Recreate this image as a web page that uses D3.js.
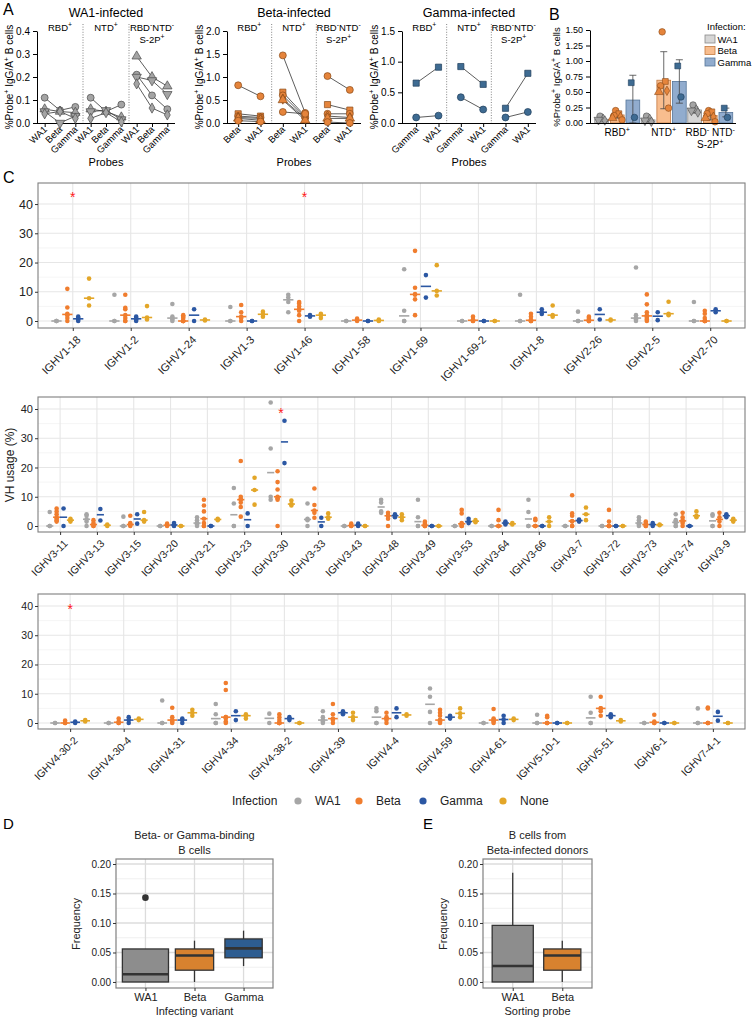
<!DOCTYPE html>
<meta charset="utf-8">
<style>
  body { margin: 0; background: #fff; }
  svg { font-family: "Liberation Sans", Arial, sans-serif; }
</style>
<svg width="752" height="1019"></svg>
<script src="https://cdn.jsdelivr.net/npm/d3@7"></script>
<script>
// ---------- panel A data (one row per donor, one value per probe) ----------
var wa1Probes = ["WA1", "Beta", "Gamma"];
var wa1Rbd = [[0.11, 0.055, 0.07], [0.06, 0.05, 0.045], [0.05, 0.0, 0.03], [0.04, 0.05, 0.02]];
var wa1Ntd = [[0.11, 0.05, 0.08], [0.06, 0.05, 0.025], [0.05, 0.055, 0.015], [0.02, 0.045, 0.005]];
var wa1S2p = [[0.21, 0.12, 0.06], [0.29, 0.20, 0.16], [0.20, 0.185, 0.125], [0.17, 0.065, 0.035]];
var wa1Shapes = ["circle", "triangle", "down", "diamond"];

var betaProbes = ["Beta", "WA1"];
var betaRbd = [[0.82, 0.58], [0.2, 0.15], [0.15, 0.12], [0.12, 0.1], [0.1, 0.06], [0.05, 0.03]];
var betaNtd = [[1.47, 0.22], [0.67, 0.15], [0.6, 0.12], [0.52, 0.1], [0.5, 0.06], [0.24, 0.2]];
var betaS2p = [[1.02, 0.72], [0.4, 0.28], [0.2, 0.2], [0.15, 0.12], [0.1, 0.1], [0.02, 0.0]];
var betaShapes = ["circle", "square", "circle", "diamond", "triangle", "circle"];

var gammaProbes = ["Gamma", "WA1"];
var gammaRbd = [[0.65, 0.91], [0.09, 0.12]];
var gammaNtd = [[0.92, 0.63], [0.42, 0.22]];
var gammaS2p = [[0.24, 0.81], [0.09, 0.18]];
var gammaShapes = ["square", "circle"];

// ---------- panel B data ----------
var bGroups = ["RBD", "NTD", "S2P"];
var bInfections = ["WA1", "Beta", "Gamma"];
var bMeanWA1 = [0.06, 0.05, 0.21];
var bMeanBeta = [0.13, 0.69, 0.12];
var bMeanGamma = [0.37, 0.67, 0.17];
var bSdWA1 = [0.02, 0.03, 0.05];
var bSdBeta = [0.05, 0.46, 0.07];
var bSdGamma = [0.40, 0.35, 0.07];
var bPtsWA1 = [[0.11, 0.06, 0.05, 0.04], [0.11, 0.06, 0.04, 0.02], [0.29, 0.21, 0.2, 0.17]];
var bPtsBeta = [[0.2, 0.15, 0.12, 0.1, 0.08, 0.05], [1.47, 0.67, 0.6, 0.52, 0.5, 0.24], [0.2, 0.18, 0.15, 0.1, 0.08, 0.02]];
var bPtsGamma = [[0.65, 0.09], [0.92, 0.42], [0.24, 0.09]];

// ---------- panel C data (VH usage %, per gene, per infection group) ----------
var infections = ["WA1", "Beta", "Gamma", "None"];

var genes1 = ["IGHV1-18", "IGHV1-2", "IGHV1-24", "IGHV1-3", "IGHV1-46", "IGHV1-58", "IGHV1-69", "IGHV1-69-2", "IGHV1-8", "IGHV2-26", "IGHV2-5", "IGHV2-70"];
var wa1_1 = [[0, 0, 0], [9, 0, 0], [5.8, 1.5, 1, 0.5, 0], [4.8, 0, 0], [9, 8, 6.5, 3], [0, 0], [17.7, 3.5, 0, 0], [0, 0], [9, 0, 0], [3.2, 0, 0], [18.3, 2, 1, 0.5, 0], [6.5, 0, 0]];
var beta_1 = [[11, 4.6, 2.5, 2, 1, 0], [9, 4.5, 4, 2, 1, 0, 0], [2, 1.5, 1, 0, 0, 0, 0], [5.5, 3, 1.5, 1, 0], [6.5, 6, 5, 4, 3.5, 2, 0], [0.8, 0.3, 0], [24, 11.4, 9.2, 9, 7.4, 2], [1.5, 0.5, 0, 0], [2.5, 1.5, 0.5, 0, 0, 0], [1.5, 1, 0.5, 0, 0, 0], [9.1, 5.7, 3, 2, 1.5, 1, 0.5, 0], [3.5, 2.5, 1, 0, 0, 0, 0]];
var gamma_1 = [[1.5, 1, 0.5, 0], [1.5, 1, 0.5, 0], [4, 0], [0, 0], [2, 1.5], [0, 0], [15.7, 8], [0, 0], [4, 3, 2.4], [4, 0.5], [3, 0.3], [4, 3]];
var none_1 = [[14.5, 7.8, 5.3], [5.1, 1.2, 0.5], [0.5, 0.2], [3.2, 2.3, 1.5], [2.5, 2, 1], [0.5, 0.2, 0], [19.1, 10.3, 8.7], [0, 0], [5.3, 2, 1.5], [0.5, 0.2], [6.6, 2.5, 2], [0, 0]];
var sig1 = ["IGHV1-18", "IGHV1-46"];
var sigY1 = [43.4, 43.4];

var genes2 = ["IGHV3-11", "IGHV3-13", "IGHV3-15", "IGHV3-20", "IGHV3-21", "IGHV3-23", "IGHV3-30", "IGHV3-33", "IGHV3-43", "IGHV3-48", "IGHV3-49", "IGHV3-53", "IGHV3-64", "IGHV3-66", "IGHV3-7", "IGHV3-72", "IGHV3-73", "IGHV3-74", "IGHV3-9"];
var wa1_2 = [[4.8, 0, 0], [4, 3.5, 2.3, 1.5, 0], [3.2, 0, 0], [0, 0], [3, 2, 1, 0.5, 0], [13, 7.7, 0, 0], [42.2, 26.5, 10, 9], [7.7, 2.5, 2, 0], [0, 0], [9, 8, 5, 4.5], [9, 3, 0, 0], [0, 0], [0, 0], [9, 4.8, 0, 0], [0, 0], [0, 0], [3, 2, 1, 0.5, 0], [4, 2, 1.5, 1, 0, 0], [4, 3.5, 0, 0]];
var beta_2 = [[6, 5, 4, 3, 2.5, 2, 1.5], [2, 1, 0.5, 0, 0], [3.5, 1, 0.5, 0.5, 0], [0.8, 0.3, 0], [9, 7, 5, 2.5, 1, 0, 0], [22.2, 10, 9.2, 9, 8, 6.5, 3.2], [18.7, 15, 12.5, 10, 9.5, 9, 0], [12.8, 7.2, 5.3, 4.5, 2.8], [0.8, 0.3, 0, 0], [4.5, 3.5, 3.5, 2.5, 0], [1.5, 1, 0.5, 0, 0, 0], [5.5, 4.3, 1, 0.5, 0, 0], [5.5, 2, 0, 0, 0], [2.5, 2, 0, 0, 0], [10.5, 4.3, 3.5, 1.7, 1.5, 0, 0], [5.5, 1.5, 0, 0, 0], [1.5, 1, 0.5, 0, 0], [4.5, 3, 2, 1.5, 1, 0], [4.5, 3, 1.5, 0]];
var gamma_2 = [[6, 0], [5.8, 1.9], [4, 0.8], [1, 0.5, 0.2, 0], [0, 0], [4.3, 0], [36, 21.5], [2.8, 0], [0.8, 0.3, 0], [4, 3.5, 3], [0, 0], [2.5, 1.5, 1], [1.5, 1, 0.5], [0, 0], [2.2, 1.5], [0, 0], [1, 0.5, 0], [0, 0], [4, 3.5, 3]];
var none_2 = [[2.5, 2, 1.5], [0.5, 0], [4.8, 2, 1.5], [0, 0], [2.5, 2], [16.5, 12.3, 7.3], [8.7, 7.5, 7], [4.3, 3, 2.5], [0, 0], [4, 3, 2], [0, 0], [2, 1.3], [1, 0.5], [3, 1.5, 0], [6.3, 4, 2], [0, 0], [0.5, 0.3], [5, 3.5, 3], [2.5, 2, 1.5]];
var sig2 = ["IGHV3-30"];
var sigY2 = [39.5];

var genes3 = ["IGHV4-30-2", "IGHV4-30-4", "IGHV4-31", "IGHV4-34", "IGHV4-38-2", "IGHV4-39", "IGHV4-4", "IGHV4-59", "IGHV4-61", "IGHV5-10-1", "IGHV5-51", "IGHV6-1", "IGHV7-4-1"];
var wa1_3 = [[0, 0], [0, 0], [7.7, 0, 0], [6.5, 3, 0, 0], [3.2, 0], [4, 2, 1, 0.5, 0], [5, 4, 0, 0], [11.8, 9, 3.8, 0], [0, 0], [2.8, 0, 0], [9, 3.5, 0, 0], [0, 0], [5, 0, 0]];
var beta_3 = [[0.8, 0, 0], [1.5, 0.5, 0, 0], [5.2, 2, 1, 0.5, 0], [13.7, 11.3, 2, 2, 1.5, 0.5, 0], [3, 2, 1, 0, 0, 0, 0], [6.5, 3, 1.5, 1, 0], [3.5, 2, 1.5, 1, 0], [4.5, 3.5, 2.5, 1, 1, 0.5, 0], [4.8, 1.5, 1, 0.5, 0], [2.5, 2, 0, 0, 0], [9, 5, 5, 4, 2.5], [2.8, 0.5, 0, 0], [5.3, 5, 0, 0, 0]];
var gamma_3 = [[0.5, 0], [2, 1, 0], [1.5, 1, 0], [4, 1], [2, 1.5, 1], [4, 3.5, 3], [5, 2], [2.5, 2, 1.5], [2.5, 1.2, 0], [0, 0], [3, 2.5, 2], [0, 0], [3.8, 0.8]];
var none_3 = [[1, 0.5], [1.5, 1], [4.5, 3.5, 2.5], [3, 2.5, 1.5], [0, 0], [3.5, 2, 1], [3, 2.5], [5, 3.3, 2], [1.5, 1], [0, 0], [1, 0.5], [0, 0], [0, 0]];
var sig3 = ["IGHV4-30-2"];
var sigY3 = [40];

// ---------- panels D and E (box statistics) ----------
var dCats = ["WA1", "Beta", "Gamma"];
var dLow = [0, 0, 0.027], dQ1 = [0, 0.02, 0.041], dMed = [0.013, 0.045, 0.057], dQ3 = [0.056, 0.056, 0.073], dHigh = [0.056, 0.07, 0.087];
var dOutliers = [[0.143], [], []];
var eCats = ["WA1", "Beta"];
var eLow = [0, 0], eQ1 = [0, 0.02], eMed = [0.027, 0.045], eQ3 = [0.096, 0.056], eHigh = [0.185, 0.07];
var eOutliers = [[], []];

// ---------- styles ----------
var aFill = { WA1: "#a4a4a4", Beta: "#e5843b", Gamma: "#3e6b92" };
var aStroke = { WA1: "#4a4a4a", Beta: "#8a4a18", Gamma: "#1f3d5a" };
var barFill = { WA1: "#d6d6d6", Beta: "#f8bd8e", Gamma: "#91acce" };
var barStroke = { WA1: "#8a8a8a", Beta: "#c47a40", Gamma: "#56769a" };
var cColor = { WA1: "#a6a6a6", Beta: "#f07d2e", Gamma: "#2b57a3", None: "#e3a628" };
var boxFill = { WA1: "#8d8d8d", Beta: "#d8822f", Gamma: "#2d5d91" };

var svg = d3.select("svg");

function rich(sel, parts, fs) {
  var up = false;
  parts.forEach(function (p) {
    var sup = p.charAt(0) === "^";
    var t = sel.append("tspan").text(sup ? p.slice(1) : p);
    if (sup) {
      t.attr("font-size", fs * 0.72);
      if (!up) { t.attr("dy", -fs * 0.38); up = true; }
    } else if (up) {
      t.attr("dy", fs * 0.38); up = false;
    }
  });
  return sel;
}

function symbolPath(shape, size) {
  var types = { circle: d3.symbolCircle, triangle: d3.symbolTriangle, down: d3.symbolTriangle, diamond: d3.symbolDiamond, square: d3.symbolSquare };
  return d3.symbol().type(types[shape]).size(size)();
}

var probeTitle = ["%Probe", "^+", " IgG/A", "^+", " B cells"];

// ---------- panel A ----------
function drawA(o) {
  var secs = ["RBD", "NTD", "S2P"];
  var xs = d3.scaleBand().domain(secs).range([o.left, o.right]);
  var xp = d3.scalePoint().domain(o.probes).range([o.shift, xs.bandwidth() + o.shift]).padding(0.5);
  var y = d3.scaleLinear().domain([0, o.yMax]).range([123, 31]);
  var g = svg.append("g");

  g.append("text").attr("x", (o.left + o.right) / 2).attr("y", 17).attr("text-anchor", "middle")
    .attr("font-size", 12.5).text(o.title);

  g.selectAll(".sep").data(secs.slice(1)).enter().append("line")
    .attr("x1", function (d) { return xs(d); }).attr("x2", function (d) { return xs(d); })
    .attr("y1", 24).attr("y2", 123)
    .attr("stroke", "#666").attr("stroke-width", 0.8).attr("stroke-dasharray", "1,1.6");

  var lab = [[["RBD", "^+"]], [["NTD", "^+"]], [["RBD", "^-", "NTD", "^-"], ["S-2P", "^+"]]];
  secs.forEach(function (s, i) {
    lab[i].forEach(function (line, li) {
      rich(g.append("text").attr("x", xs(s) + xs.bandwidth() / 2).attr("y", 31 + li * 12)
        .attr("text-anchor", "middle").attr("font-size", 9.5), line, 9.5);
    });
  });

  var ya = g.append("g").attr("transform", "translate(" + o.left + ",0)")
    .call(d3.axisLeft(y).tickValues(o.yTicks).tickFormat(d3.format(".1f")).tickSize(4).tickSizeOuter(0));
  ya.selectAll("text").attr("font-size", 10).attr("fill", "#000").attr("font-family", null);
  ya.selectAll("line,path").attr("stroke", "#000");

  g.append("line").attr("x1", o.left).attr("x2", o.right).attr("y1", 123.5).attr("y2", 123.5).attr("stroke", "#000");
  secs.forEach(function (s) {
    var xa = g.append("g").attr("transform", "translate(" + xs(s) + ",123)")
      .call(d3.axisBottom(xp).tickSize(4).tickSizeOuter(0).tickFormat(""));
    xa.select(".domain").remove();
    xa.selectAll("line").attr("stroke", "#000");
    o.probes.forEach(function (p) {
      g.append("text").attr("transform", "translate(" + (xs(s) + xp(p) + 3) + ",130) rotate(-45)")
        .attr("text-anchor", "end").attr("font-size", 9.5).text(p);
    });
  });

  rich(g.append("text").attr("transform", "translate(" + (o.left - 24) + ",77) rotate(-90)")
    .attr("text-anchor", "middle").attr("font-size", 10), probeTitle, 10);
  g.append("text").attr("x", (o.left + o.right) / 2).attr("y", 166).attr("text-anchor", "middle")
    .attr("font-size", 11).text("Probes");

  secs.forEach(function (s, si) {
    var rows = o.sets[si];
    rows.forEach(function (vals) {
      var pts = vals.map(function (v, pi) { return [xs(s) + xp(o.probes[pi]), y(v)]; });
      g.append("path").attr("d", d3.line()(pts)).attr("fill", "none").attr("stroke", "#333").attr("stroke-width", 0.8);
    });
    rows.forEach(function (vals, di) {
      vals.forEach(function (v, pi) {
        var sh = o.shapes[di];
        g.append("path").attr("d", symbolPath(sh, sh === "diamond" ? 30 : 38))
          .attr("transform", "translate(" + (xs(s) + xp(o.probes[pi])) + "," + y(v) + ")" + (sh === "down" ? " rotate(180)" : ""))
          .attr("fill", aFill[o.inf]).attr("stroke", aStroke[o.inf]).attr("stroke-width", 0.7);
      });
    });
  });
}

svg.append("text").attr("x", 3).attr("y", 15).attr("font-size", 16).text("A");
drawA({ left: 37, right: 175, shift: 0, probes: wa1Probes, yMax: 0.4, yTicks: [0, 0.1, 0.2, 0.3, 0.4],
  title: "WA1-infected", sets: [wa1Rbd, wa1Ntd, wa1S2p], shapes: wa1Shapes, inf: "WA1" });
drawA({ left: 227, right: 361, shift: 0, probes: betaProbes, yMax: 2, yTicks: [0, 0.5, 1, 1.5, 2],
  title: "Beta-infected", sets: [betaRbd, betaNtd, betaS2p], shapes: betaShapes, inf: "Beta" });
drawA({ left: 402, right: 536, shift: 3, probes: gammaProbes, yMax: 1.5, yTicks: [0, 0.5, 1, 1.5],
  title: "Gamma-infected", sets: [gammaRbd, gammaNtd, gammaS2p], shapes: gammaShapes, inf: "Gamma" });

// ---------- panel B ----------
(function () {
  var g = svg.append("g");
  g.append("text").attr("x", 549).attr("y", 20).attr("font-size", 16).text("B");
  var x = d3.scaleBand().domain(bGroups).range([594, 733.5]);
  var xi = d3.scaleBand().domain(bInfections).range([0, x.bandwidth()]).paddingInner(0.12).paddingOuter(0.05);
  var y = d3.scaleLinear().domain([0, 1.5]).range([123, 30]);
  var means = { WA1: bMeanWA1, Beta: bMeanBeta, Gamma: bMeanGamma };
  var sds = { WA1: bSdWA1, Beta: bSdBeta, Gamma: bSdGamma };
  var pts = { WA1: bPtsWA1, Beta: bPtsBeta, Gamma: bPtsGamma };
  var shapes = { WA1: ["circle", "triangle", "down", "diamond"], Beta: betaShapes, Gamma: gammaShapes };

  bInfections.forEach(function (inf) {
    bGroups.forEach(function (grp, gi) {
      var bx = x(grp) + xi(inf), bw = xi.bandwidth(), cx = bx + bw / 2;
      var m = means[inf][gi], sd = sds[inf][gi];
      g.append("rect").attr("x", bx).attr("y", y(m)).attr("width", bw).attr("height", y(0) - y(m))
        .attr("fill", barFill[inf]).attr("stroke", barStroke[inf]).attr("stroke-width", 0.8);
      var lo = Math.max(0, m - sd), hi = m + sd;
      g.append("line").attr("x1", cx).attr("x2", cx).attr("y1", y(lo)).attr("y2", y(hi)).attr("stroke", "#444").attr("stroke-width", 0.8);
      [lo, hi].forEach(function (v) {
        g.append("line").attr("x1", cx - 3.5).attr("x2", cx + 3.5).attr("y1", y(v)).attr("y2", y(v)).attr("stroke", "#444").attr("stroke-width", 0.8);
      });
      var vals = pts[inf][gi], n = vals.length;
      vals.forEach(function (v, k) {
        var dx = n > 1 ? (k % 2 === 0 ? -1 : 1) * (1 + (k >> 1)) * 1.6 : 0;
        var sh = shapes[inf][k % shapes[inf].length];
        g.append("path").attr("d", symbolPath(sh, sh === "diamond" ? 26 : 34))
          .attr("transform", "translate(" + (cx + dx) + "," + y(v) + ")" + (sh === "down" ? " rotate(180)" : ""))
          .attr("fill", aFill[inf]).attr("stroke", aStroke[inf]).attr("stroke-width", 0.6);
      });
    });
  });

  var ya = g.append("g").attr("transform", "translate(590,0)")
    .call(d3.axisLeft(y).tickValues([0, 0.25, 0.5, 0.75, 1, 1.25, 1.5]).tickFormat(d3.format(".2f")).tickSize(4).tickSizeOuter(0));
  ya.selectAll("text").attr("font-size", 9).attr("fill", "#000").attr("font-family", null);
  ya.selectAll("line,path").attr("stroke", "#000");
  g.append("line").attr("x1", 590).attr("x2", 736).attr("y1", 123.5).attr("y2", 123.5).attr("stroke", "#000");

  var labs = [[["RBD", "^+"]], [["NTD", "^+"]], [["RBD", "^-", " NTD", "^-"], ["S-2P", "^+"]]];
  bGroups.forEach(function (grp, i) {
    labs[i].forEach(function (line, li) {
      rich(g.append("text").attr("x", x(grp) + x.bandwidth() / 2).attr("y", 136 + li * 12)
        .attr("text-anchor", "middle").attr("font-size", 10), line, 10);
    });
  });
  rich(g.append("text").attr("transform", "translate(560,77) rotate(-90)")
    .attr("text-anchor", "middle").attr("font-size", 9.5), probeTitle, 9.5);

  g.append("text").attr("x", 707).attr("y", 30).attr("font-size", 9.5).text("Infection:");
  bInfections.forEach(function (inf, i) {
    g.append("rect").attr("x", 705).attr("y", 35 + i * 11.5).attr("width", 10).attr("height", 8)
      .attr("fill", barFill[inf]).attr("stroke", barStroke[inf]).attr("stroke-width", 0.8);
    g.append("text").attr("x", 717.5).attr("y", 42.5 + i * 11.5).attr("font-size", 9.5).text(inf);
  });
})();

// ---------- panel C ----------
function drawRow(genes, series, sig, sigY, box, fsY, fsX) {
  var g = svg.append("g");
  var x = d3.scalePoint().domain(genes).range([38, 745]).padding(0.6);
  var y = d3.scaleLinear().domain(box.dom).range([box.bottom, box.top]);
  var sub = d3.scaleBand().domain(infections).range([-0.375 * x.step(), 0.375 * x.step()]);

  g.selectAll(".minor").data([5, 15, 25, 35]).enter().append("line")
    .attr("x1", 38).attr("x2", 745).attr("y1", function (d) { return y(d); }).attr("y2", function (d) { return y(d); })
    .attr("stroke", "#f0f0f0").attr("stroke-width", 0.7);
  g.selectAll(".major").data([0, 10, 20, 30, 40]).enter().append("line")
    .attr("x1", 38).attr("x2", 745).attr("y1", function (d) { return y(d); }).attr("y2", function (d) { return y(d); })
    .attr("stroke", "#e6e6e6").attr("stroke-width", 1.1);
  g.selectAll(".vgrid").data(genes).enter().append("line")
    .attr("x1", function (d) { return x(d); }).attr("x2", function (d) { return x(d); })
    .attr("y1", box.top).attr("y2", box.bottom).attr("stroke", "#e6e6e6").attr("stroke-width", 1.1);

  var hw = sub.bandwidth() * 0.4 + 0.8;
  series.forEach(function (s, k) {
    var inf = infections[k];
    genes.forEach(function (gene, i) {
      var cx = x(gene) + sub(inf) + sub.bandwidth() / 2;
      s[i].forEach(function (v) {
        g.append("circle").attr("cx", cx).attr("cy", y(v)).attr("r", 2.3).attr("fill", cColor[inf]);
      });
      var med = d3.median(s[i]);
      g.append("line").attr("x1", cx - hw).attr("x2", cx + hw).attr("y1", y(med)).attr("y2", y(med))
        .attr("stroke", cColor[inf]).attr("stroke-width", 1.6);
    });
  });

  sig.forEach(function (gene, i) {
    g.append("text").attr("x", x(gene)).attr("y", y(sigY[i]) + 8).attr("text-anchor", "middle")
      .attr("font-size", 14).attr("fill", "#ff1a1a").text("*");
  });

  g.append("rect").attr("x", 38).attr("y", box.top).attr("width", 707).attr("height", box.bottom - box.top)
    .attr("fill", "none").attr("stroke", "#7f7f7f").attr("stroke-width", 1.1);

  var ya = g.append("g").attr("transform", "translate(38,0)")
    .call(d3.axisLeft(y).tickValues([0, 10, 20, 30, 40]).tickSize(3).tickPadding(2));
  ya.select(".domain").remove();
  ya.selectAll("line").attr("stroke", "#333");
  ya.selectAll("text").attr("font-size", fsY).attr("fill", "#222").attr("font-family", null);

  var xa = g.append("g").attr("transform", "translate(0," + box.bottom + ")")
    .call(d3.axisBottom(x).tickSize(3).tickFormat(""));
  xa.select(".domain").remove();
  xa.selectAll("line").attr("stroke", "#333");
  genes.forEach(function (gene) {
    g.append("text").attr("transform", "translate(" + (x(gene) + 3) + "," + (box.bottom + 7) + ") rotate(-45)")
      .attr("text-anchor", "end").attr("dy", "0.7em").attr("font-size", fsX).attr("fill", "#222").text(gene);
  });
}

svg.append("text").attr("x", 3).attr("y", 183).attr("font-size", 16).text("C");
drawRow(genes1, [wa1_1, beta_1, gamma_1, none_1], sig1, sigY1, { top: 183, bottom: 328, dom: [-2.39, 47.2] }, 12.5, 11);
drawRow(genes2, [wa1_2, beta_2, gamma_2, none_2], sig2, sigY2, { top: 397, bottom: 532, dom: [-2.05, 44.1] }, 11, 10.5);
drawRow(genes3, [wa1_3, beta_3, gamma_3, none_3], sig3, sigY3, { top: 594, bottom: 729, dom: [-2.05, 44.1] }, 10.5, 10.5);

svg.append("text").attr("transform", "translate(14,465) rotate(-90)").attr("text-anchor", "middle")
  .attr("font-size", 12).attr("fill", "#222").text("VH usage (%)");

// legend
(function () {
  var g = svg.append("g").attr("font-size", 12).attr("fill", "#222");
  g.append("text").attr("x", 232).attr("y", 805).text("Infection");
  var lx = [298, 359, 423, 503];
  infections.forEach(function (inf, i) {
    g.append("circle").attr("cx", lx[i]).attr("cy", 801).attr("r", 3.6).attr("fill", cColor[inf]);
    g.append("text").attr("x", lx[i] + 17).attr("y", 805).text(inf);
  });
})();

// ---------- panels D and E ----------
function boxPanel(o) {
  var g = svg.append("g");
  var x = d3.scalePoint().domain(o.cats).range([o.left, o.right]).padding(0.6);
  var y = d3.scaleLinear().domain([-0.0102, 0.2085]).range([988, 859]);
  g.selectAll(".minor").data([0.025, 0.075, 0.125, 0.175]).enter().append("line")
    .attr("x1", o.left).attr("x2", o.right).attr("y1", function (d) { return y(d); }).attr("y2", function (d) { return y(d); })
    .attr("stroke", "#ececec").attr("stroke-width", 0.8);
  g.selectAll(".major").data([0, 0.05, 0.1, 0.15, 0.2]).enter().append("line")
    .attr("x1", o.left).attr("x2", o.right).attr("y1", function (d) { return y(d); }).attr("y2", function (d) { return y(d); })
    .attr("stroke", "#dcdcdc").attr("stroke-width", 1.3);
  g.selectAll(".vgrid").data(o.cats).enter().append("line")
    .attr("x1", function (d) { return x(d); }).attr("x2", function (d) { return x(d); })
    .attr("y1", 859).attr("y2", 988).attr("stroke", "#dcdcdc").attr("stroke-width", 1.3);

  o.cats.forEach(function (c, i) {
    var cx = x(c), hw = o.rel[i] * x.step() / 2;
    g.append("line").attr("x1", cx).attr("x2", cx).attr("y1", y(o.low[i])).attr("y2", y(o.high[i]))
      .attr("stroke", "#333").attr("stroke-width", 1.3);
    g.append("rect").attr("x", cx - hw).attr("y", y(o.q3[i])).attr("width", 2 * hw).attr("height", y(o.q1[i]) - y(o.q3[i]))
      .attr("fill", boxFill[c]).attr("stroke", "#333").attr("stroke-width", 1.3);
    g.append("line").attr("x1", cx - hw).attr("x2", cx + hw).attr("y1", y(o.med[i])).attr("y2", y(o.med[i]))
      .attr("stroke", "#333").attr("stroke-width", 2.6);
    o.out[i].forEach(function (v) {
      g.append("circle").attr("cx", cx).attr("cy", y(v)).attr("r", 3.3).attr("fill", "#333");
    });
  });

  g.append("rect").attr("x", o.left).attr("y", 859).attr("width", o.right - o.left).attr("height", 129)
    .attr("fill", "none").attr("stroke", "#808080").attr("stroke-width", 1.2);

  var ya = g.append("g").attr("transform", "translate(" + o.left + ",0)")
    .call(d3.axisLeft(y).tickValues([0, 0.05, 0.1, 0.15, 0.2]).tickFormat(d3.format(".2f")).tickSize(3).tickPadding(2));
  ya.select(".domain").remove();
  ya.selectAll("line").attr("stroke", "#333");
  ya.selectAll("text").attr("font-size", 10).attr("fill", "#222").attr("font-family", null);
  var xa = g.append("g").attr("transform", "translate(0,988)")
    .call(d3.axisBottom(x).tickSize(3).tickPadding(2));
  xa.select(".domain").remove();
  xa.selectAll("line").attr("stroke", "#333");
  xa.selectAll("text").attr("font-size", 11).attr("fill", "#222").attr("font-family", null);

  o.title.forEach(function (t, i) {
    g.append("text").attr("x", (o.left + o.right) / 2).attr("y", 839 + i * 15).attr("text-anchor", "middle")
      .attr("font-size", 11).attr("fill", "#222").text(t);
  });
  g.append("text").attr("x", (o.left + o.right) / 2).attr("y", 1015).attr("text-anchor", "middle")
    .attr("font-size", 11).attr("fill", "#222").text(o.xTitle);
  g.append("text").attr("transform", "translate(" + (o.left - 36) + ",924) rotate(-90)").attr("text-anchor", "middle")
    .attr("font-size", 11).attr("fill", "#222").text("Frequency");
  g.append("text").attr("x", o.labelX).attr("y", 829).attr("font-size", 15).text(o.label);
}

boxPanel({ cats: dCats, low: dLow, q1: dQ1, med: dMed, q3: dQ3, high: dHigh, out: dOutliers, rel: [0.94, 0.78, 0.76],
  left: 116, right: 273, title: ["Beta- or Gamma-binding", "B cells"], xTitle: "Infecting variant", label: "D", labelX: 3 });
boxPanel({ cats: eCats, low: eLow, q1: eQ1, med: eMed, q3: eQ3, high: eHigh, out: eOutliers, rel: [0.83, 0.75],
  left: 483, right: 592, title: ["B cells from", "Beta-infected donors"], xTitle: "Sorting probe", label: "E", labelX: 423 });
</script>
